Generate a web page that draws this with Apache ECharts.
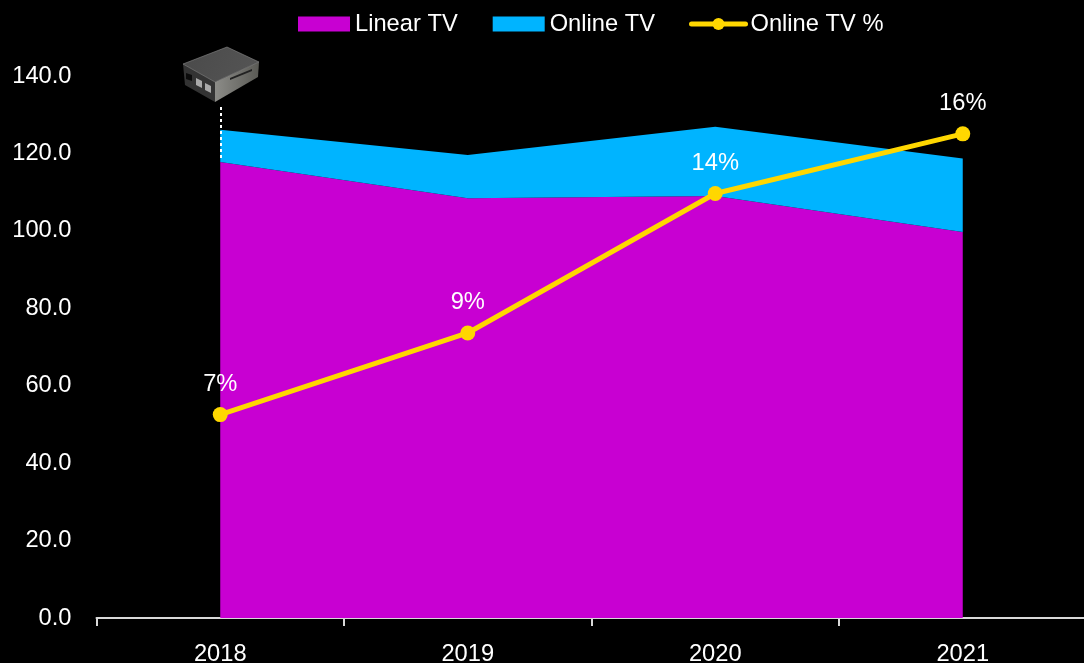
<!DOCTYPE html>
<html>
<head>
<meta charset="utf-8">
<style>html,body{margin:0;padding:0;background:#000}#c{width:1084px;height:663px}</style>
<script src="https://cdn.jsdelivr.net/npm/echarts@6/dist/echarts.min.js"></script>
</head>
<body>
<div id="c"></div>
<script>
const years = ['2018', '2019', '2020', '2021'];
const linearTV = [117.8, 108.4, 109.0, 99.7];
const onlineTV = [8.3, 11.2, 17.9, 19.0];
const onlinePct = [6.68, 9.36, 13.94, 15.9];
const FONT = 'Arial, "Liberation Sans", sans-serif';
const legendText = {color: '#fff', fontSize: 23.7, fontFamily: FONT};
const chart = echarts.init(document.getElementById('c'), null, {renderer: 'canvas'});
chart.setOption({
  backgroundColor: '#000',
  animation: false,
  textStyle: {fontFamily: FONT},
  legend: [{
    left: 298, top: 12, itemWidth: 52, itemHeight: 15, itemGap: 35, padding: 0,
    selectedMode: false, textStyle: legendText,
    data: [
      {name: 'Linear TV', icon: 'rect'},
      {name: 'Online TV', icon: 'rect'}
    ]
  }, {
    left: 689, top: 12, itemWidth: 54, itemHeight: 15, padding: 0,
    selectedMode: false, textStyle: legendText,
    data: [{name: 'Online TV %', lineStyle: {width: 5, cap: 'round'}, itemStyle: {color: '#FFD700'}}]
  }],
  grid: {left: 96.5, right: -2.5, top: 76, bottom: 45, containLabel: false, outerBoundsMode: 'none'},
  xAxis: {
    type: 'category', data: years, boundaryGap: true,
    axisLine: {lineStyle: {color: '#d9d9d9', width: 2}},
    axisTick: {show: true, length: 8, lineStyle: {color: '#d9d9d9', width: 2}},
    axisLabel: {color: '#fff', fontSize: 23.7, margin: 24, fontFamily: FONT}
  },
  yAxis: [
    {type: 'value', min: 0, max: 140, interval: 20,
      splitLine: {show: false}, axisLine: {show: false}, axisTick: {show: false},
      axisLabel: {color: '#fff', fontSize: 23.7, margin: 25, fontFamily: FONT, padding: [4, 0, 0, 0],
        formatter: v => v.toFixed(1)}},
    {type: 'value', min: 0, max: 17.8, show: false, splitLine: {show: false}}
  ],
  series: [
    {name: 'Linear TV', type: 'line', stack: 'tv', data: linearTV, symbol: 'none',
      lineStyle: {width: 0}, itemStyle: {color: '#C800D2'},
      areaStyle: {color: '#C800D2', opacity: 1}, z: 1,
      markLine: {silent: true, symbol: 'none', z: 5,
        lineStyle: {color: '#fff', type: [3, 3], width: 2},
        label: {show: false},
        data: [[{xAxis: '2018', yAxis: 118.8}, {xAxis: '2018', yAxis: 132.6}]]}},
    {name: 'Online TV', type: 'line', stack: 'tv', data: onlineTV, symbol: 'none',
      lineStyle: {width: 0}, itemStyle: {color: '#00B4FF'},
      areaStyle: {color: '#00B4FF', opacity: 1}, z: 2},
    {name: 'Online TV %', type: 'line', yAxisIndex: 1, data: onlinePct,
      symbol: 'circle', symbolSize: 15,
      lineStyle: {color: '#FFD700', width: 5}, itemStyle: {color: '#FFD700'}, z: 4,
      label: {show: true, position: 'top', distance: 11, color: '#fff', fontSize: 23.7, fontFamily: FONT,
        formatter: p => Math.round(p.value) + '%'}}
  ],
  graphic: [{
    type: 'group', z: 20, silent: true,
    children: [
      {type: 'polygon', shape: {points: [[183,64],[215,82],[215,102],[185,85]]},
        style: {fill: '#333333'}},
      {type: 'polygon', shape: {points: [[215,82],[259,62],[258,77],[215,102]]},
        style: {fill: new echarts.graphic.LinearGradient(0,0,1,0,[{offset:0,color:'#8c8c88'},{offset:1,color:'#5a5a55'}])}},
      {type: 'polygon', shape: {points: [[183,64],[227,47],[259,62],[215,82]]},
        style: {fill: new echarts.graphic.LinearGradient(0,0,1,1,[{offset:0,color:'#4a4a4a'},{offset:1,color:'#555555'}]), stroke: '#8a8a8a', lineWidth: 0.6}},
      {type: 'polygon', shape: {points: [[186,73],[192,75],[192,81],[186,79]]}, style: {fill: '#0b0b0b'}},
      {type: 'polygon', shape: {points: [[196,78],[202,81],[202,88],[196,85]]}, style: {fill: '#a8a8a8'}},
      {type: 'polygon', shape: {points: [[205,83],[211,86],[211,93],[205,90]]}, style: {fill: '#a8a8a8'}},
      {type: 'polygon', shape: {points: [[230,78],[252,69],[252,71],[230,80]]}, style: {fill: '#222222'}}
    ]
  }]
});
</script>
</body>
</html>
